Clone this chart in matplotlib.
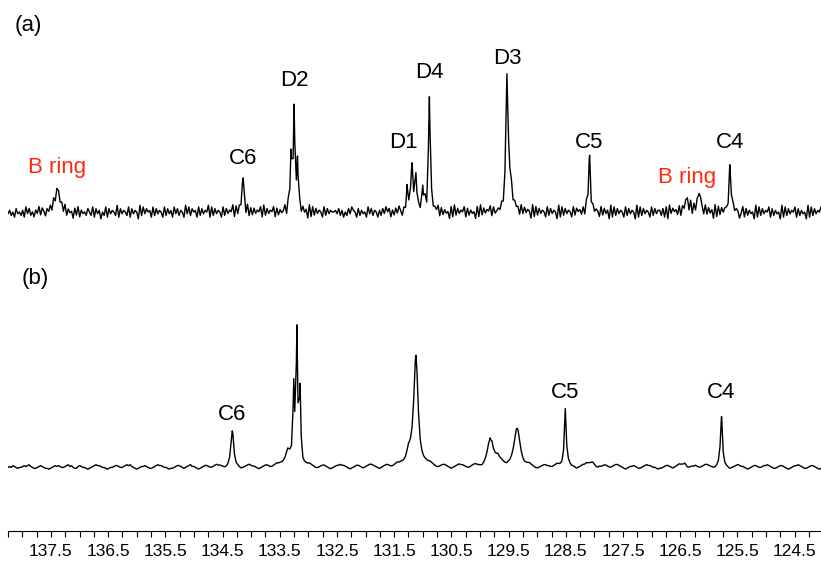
import numpy as np
import matplotlib
matplotlib.use("Agg")
import matplotlib.pyplot as plt
from matplotlib.ticker import MultipleLocator

plt.rcParams['font.family'] = ['Liberation Sans', 'DejaVu Sans']

# ---------------- data ----------------
# spectrum (a): peak table  (ppm, height, width in ppm)
PEAKS_A_PPM = [137.39, 134.14, 133.305, 133.25, 133.19, 131.27, 131.19, 131.12, 131.00,
               130.885, 129.53, 129.50, 128.09, 126.38, 126.17, 125.63]
PEAKS_A_HEIGHT = [24, 35, 56, 102, 50, 22, 46, 36, 24, 115, 108, 45, 55, 14, 19, 44]
PEAKS_A_WIDTH = [0.1, 0.045, 0.03, 0.03, 0.03, 0.04, 0.035, 0.035, 0.04,
                 0.035, 0.035, 0.09, 0.04, 0.08, 0.07, 0.045]

# spectrum (b): peak table
PEAKS_B_PPM = [134.33, 133.36, 133.255, 133.20, 133.145, 131.25, 131.12, 129.82, 129.69,
               129.35, 128.51, 128.04, 126.42, 125.78]
PEAKS_B_HEIGHT = [36, 16, 74, 130, 72, 12, 110, 26, 8, 38, 58, 5, 4, 50]
PEAKS_B_WIDTH = [0.055, 0.12, 0.03, 0.03, 0.03, 0.1, 0.09, 0.12, 0.1,
                 0.12, 0.04, 0.15, 0.1, 0.04]

# baseline noise read as digit levels (0-9)
NOISE_A = ("46352745362847352648375264738256473826451738264537"
           "53827461538274653927465382746519384756283746528374"
           "62847365294837562837465928374652837465928374651827"
           "37465829374658273645829374652837461928374652837465"
           "56473625374865273645284736526374857263748526374856"
           "74635291837465827364518293746582736451829374658273"
           "45362718394756283746519283746528374651928374652837"
           "56372819374652837461928374652837465192837465283746"
           "63728194756382746519283746528374619283746528374651"
           "48273645192837465827364519283746582736451928374658")
NOISE_B = ("45465434456567543345654332345656544567564335654432"
           "34567665443234456654456767543234556543345676654432"
           "33456654345675543234566544567665433456654432345676"
           "55432345665445676654334566543234566765433456654323"
           "45667665432345665434567765432345665445676654334566"
           "54323456676543345665432345676654334566543234566765"
           "44565434456765543345654322345665544567654335654432"
           "34566765443224456654456776543234556543345676654432"
           "33456654345676543234556544567765433456654432345676"
           "55432345665445667654334566543234566765433456654323")

TICK_VALUES = [137.5, 136.5, 135.5, 134.5, 133.5, 132.5, 131.5,
               130.5, 129.5, 128.5, 127.5, 126.5, 125.5, 124.5]
TICK_LABELS = ["137.5", "136.5", "135.5", "134.5", "133.5", "132.5", "131.5",
               "130.5", "129.5", "128.5", "127.5", "126.5", "125.5", "124.5"]

LABELS_A = ["B ring", "C6", "D2", "D1", "D4", "D3", "C5", "B ring", "C4"]
LABELS_B = ["C6", "C5", "C4"]

# ---------------- layout ----------------
XLIM = (138.25, 124.04)
BASE_A, BASE_B = 318, 64
LAB_A_POS = [(137.4, 364), (134.14, 373), (133.25, 451), (131.33, 388), (130.885, 458),
             (129.53, 473), (128.09, 388), (126.38, 354), (125.63, 388)]
RED = "#ff2a10"
LAB_A_COL = [RED, "k", "k", "k", "k", "k", "k", RED, "k"]
LAB_B_POS = [(134.33, 116), (128.51, 138), (125.78, 138)]


def trace(centers, heights, widths, noise, scale):
    lv = np.array([int(c) for c in noise], dtype=float)
    x = np.linspace(XLIM[0], XLIM[1], len(lv))
    n = (lv - 4.5) * scale
    # add the peak-top positions as sample points
    x = np.concatenate([x, np.asarray(centers, float)])
    n = np.concatenate([n, np.zeros(len(centers))])
    order = np.argsort(-x)
    x, y = x[order], n[order]
    for c, h, w in zip(centers, heights, widths):
        y = y + h / (1.0 + ((x - c) / (w / 2.0)) ** 2)
    return x, y


fig = plt.figure(figsize=(8.21, 5.61), dpi=100)
ax = fig.add_axes([8 / 821, 30 / 561, 813 / 821, 531 / 561])

xa, ya = trace(PEAKS_A_PPM, PEAKS_A_HEIGHT, PEAKS_A_WIDTH, NOISE_A, 1.7)
xb, yb = trace(PEAKS_B_PPM, PEAKS_B_HEIGHT, PEAKS_B_WIDTH, NOISE_B, 0.9)
ax.plot(xa, ya + BASE_A, color="black", lw=1.0)
ax.plot(xb, yb + BASE_B, color="black", lw=1.0)

for txt, (px, py), col in zip(LABELS_A, LAB_A_POS, LAB_A_COL):
    ax.text(px, py, txt, color=col, fontsize=16, ha="center", va="center")
for txt, (px, py) in zip(LABELS_B, LAB_B_POS):
    ax.text(px, py, txt, color="black", fontsize=16, ha="center", va="center")

fig.text(15 / 821, 1 - 25 / 561, "(a)", fontsize=16, ha="left", va="center")
fig.text(22 / 821, 1 - 278 / 561, "(b)", fontsize=16, ha="left", va="center")

ax.set_xlim(*XLIM)
ax.set_ylim(0, 531)
for s in ["top", "left", "right"]:
    ax.spines[s].set_visible(False)
ax.spines["bottom"].set_linewidth(0.8)
ax.set_yticks([])
ax.set_xticks(TICK_VALUES)
ax.set_xticklabels(TICK_LABELS, fontsize=12.5)
ax.xaxis.set_minor_locator(MultipleLocator(0.25))
ax.tick_params(axis="x", which="both", length=4, width=0.8, direction="out", pad=5)
ax.patch.set_alpha(0)

fig.savefig("out.png", dpi=100)
